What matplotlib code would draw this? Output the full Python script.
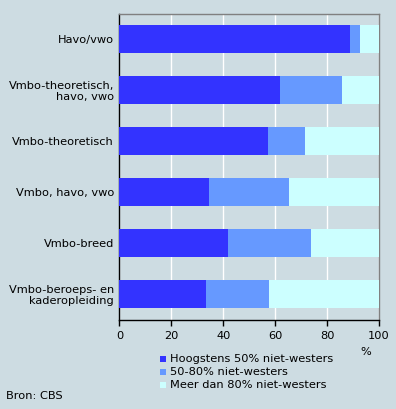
import matplotlib
matplotlib.use("Agg")
import numpy as np
from matplotlib import pyplot as plt
from matplotlib.patches import Rectangle

# data
categories = ["Havo/vwo", "Vmbo-theoretisch,\nhavo, vwo", "Vmbo-theoretisch",
              "Vmbo, havo, vwo", "Vmbo-breed", "Vmbo-beroeps- en\nkaderopleiding"]
hoogstens50 = [88.8, 61.8, 57.2, 34.5, 41.8, 33.3]
tussen50_80 = [3.9, 23.9, 14.3, 30.8, 32.0, 24.3]
meer80 = [7.3, 14.3, 28.5, 34.7, 26.2, 42.4]
series_labels = ["Hoogstens 50% niet-westers", "50-80% niet-westers", "Meer dan 80% niet-westers"]
colors = ["#3333ff", "#6699ff", "#ccffff"]
xticks = [0, 20, 40, 60, 80, 100]

bg = "#cddce2"
fs = 8.2
plt.rcParams["font.family"] = "DejaVu Sans"
plt.rcParams["font.size"] = fs

fig = plt.figure(figsize=(3.96, 4.09), dpi=100, facecolor=bg)
W, H = 396, 409
ax = fig.add_axes([119.5 / W, 1 - 319.5 / H, 259.5 / W, 306 / H])
ax.set_facecolor(bg)

y = np.arange(len(categories))
left = np.zeros(len(categories))
for vals, col, lab in zip([hoogstens50, tussen50_80, meer80], colors, series_labels):
    ax.barh(y, vals, left=left, height=0.54, color=col, label=lab, zorder=3)
    left = left + np.array(vals)

ax.set_ylim(len(categories) - 0.5, -0.5)
ax.set_xlim(0, 100)
ax.set_yticks(y)
ax.set_yticklabels(categories, fontsize=fs, linespacing=1.15)
ax.set_xticks(xticks)
ax.set_xticklabels([str(t) for t in xticks], fontsize=fs)
ax.tick_params(axis="y", length=0, pad=4)
ax.tick_params(axis="x", length=4, width=1, color="black", pad=4)
ax.grid(axis="x", color="white", linewidth=1, zorder=1)
ax.spines["left"].set_color("black")
ax.spines["bottom"].set_color("black")
ax.spines["top"].set_color("#808080")
ax.spines["right"].set_color("#808080")
for s in ax.spines.values():
    s.set_linewidth(1)

fig.text(366 / W, 1 - 352 / H, "%", ha="center", va="center", fontsize=fs)

# legend by hand
ly = [359, 372, 385]
for yy, col, lab in zip(ly, colors, series_labels):
    fig.patches.append(Rectangle((160 / W, 1 - (yy + 3) / H), 6 / W, 6 / H,
                                 transform=fig.transFigure, facecolor=col, edgecolor="none"))
    fig.text(170 / W, 1 - yy / H, lab, ha="left", va="center", fontsize=fs)

fig.text(6 / W, 1 - 396 / H, "Bron: CBS", ha="left", va="center", fontsize=fs)

fig.savefig("out.png", dpi=100, facecolor=bg)
